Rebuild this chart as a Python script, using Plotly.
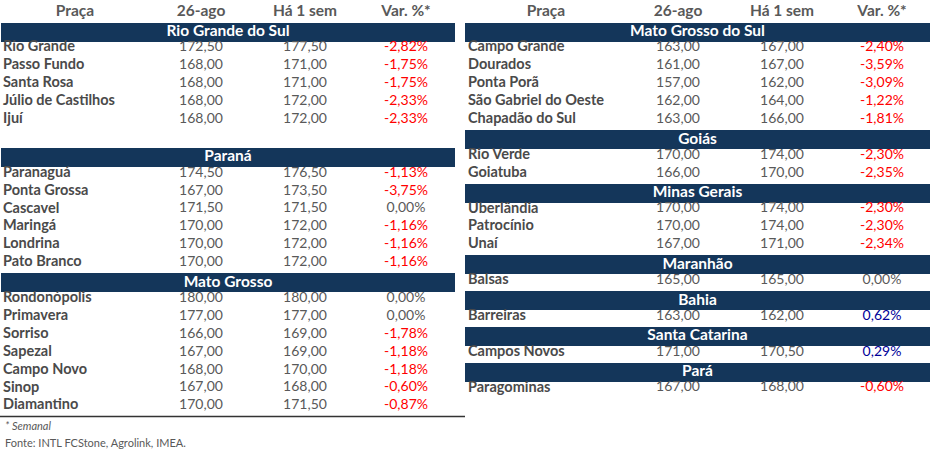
import plotly.graph_objects as go

# Tabela esquerda
left_regiao = ["Rio Grande do Sul"] * 5 + ["Paraná"] * 6 + ["Mato Grosso"] * 7
left_praca = ["Rio Grande", "Passo Fundo", "Santa Rosa", "Júlio de Castilhos", "Ijuí",
              "Paranaguá", "Ponta Grossa", "Cascavel", "Maringá", "Londrina", "Pato Branco",
              "Rondonópolis", "Primavera", "Sorriso", "Sapezal", "Campo Novo", "Sinop", "Diamantino"]
left_26ago = [172.50, 168.00, 168.00, 168.00, 168.00,
              174.50, 167.00, 171.50, 170.00, 170.00, 170.00,
              180.00, 177.00, 166.00, 167.00, 168.00, 167.00, 170.00]
left_1sem = [177.50, 171.00, 171.00, 172.00, 172.00,
             176.50, 173.50, 171.50, 172.00, 172.00, 172.00,
             180.00, 177.00, 169.00, 169.00, 170.00, 168.00, 171.50]
left_var = [-2.82, -1.75, -1.75, -2.33, -2.33,
            -1.13, -3.75, 0.00, -1.16, -1.16, -1.16,
            0.00, 0.00, -1.78, -1.18, -1.18, -0.60, -0.87]

# Tabela direita
right_regiao = (["Mato Grosso do Sul"] * 5 + ["Goiás"] * 2 + ["Minas Gerais"] * 3
                + ["Maranhão", "Bahia", "Santa Catarina", "Pará"])
right_praca = ["Campo Grande", "Dourados", "Ponta Porã", "São Gabriel do Oeste", "Chapadão do Sul",
               "Rio Verde", "Goiatuba", "Uberlândia", "Patrocínio", "Unaí",
               "Balsas", "Barreiras", "Campos Novos", "Paragominas"]
right_26ago = [163.00, 161.00, 157.00, 162.00, 163.00,
               170.00, 166.00, 170.00, 170.00, 167.00,
               165.00, 163.00, 171.00, 167.00]
right_1sem = [167.00, 167.00, 162.00, 164.00, 166.00,
              174.00, 170.00, 174.00, 174.00, 171.00,
              165.00, 162.00, 170.50, 168.00]
right_var = [-2.40, -3.59, -3.09, -1.22, -1.81,
             -2.30, -2.35, -2.30, -2.30, -2.34,
             0.00, 0.62, 0.29, -0.60]

headers = ["Praça", "26-ago", "Há 1 sem", "Var. %*"]
# linha em branco depois de uma região (só na tabela da esquerda)
blank_after = {"Rio Grande do Sul": 1}

NAVY = "#14365a"
GREY = "#595959"
NAME_GREY = "#4a4a4a"
FONT = "Lato"
PITCH = 17.9   # px por linha
TOP = 12       # centro da linha de cabeçalho, px
HEIGHT = 454


def fmt(v):
    return f"{v:.2f}".replace(".", ",")


def var_color(v):
    if v < 0:
        return "#ff0000"
    if v > 0:
        return "#000099"
    return GREY


def layout_rows(regiao):
    # devolve (linhas das barras de região, linhas dos dados)
    bar_rows, data_rows = [], []
    row = 1
    prev = None
    for r in regiao:
        if r != prev:
            if prev is not None:
                row += blank_after.get(prev, 0)
            bar_rows.append((row, r))
            row += 1
            prev = r
        data_rows.append(row)
        row += 1
    return bar_rows, data_rows


fig = go.Figure()


def add_table(xa, regiao, praca, v1, v2, var, cols, bar_start, bar_len):
    bar_rows, data_rows = layout_rows(regiao)
    # barras das regiões
    fig.add_trace(go.Bar(
        y=[r for r, _ in bar_rows], x=[bar_len] * len(bar_rows), base=bar_start,
        orientation="h", width=1.06, offset=-0.4,
        marker=dict(color=NAVY, line=dict(width=0)),
        xaxis=xa, yaxis="y", hoverinfo="skip", showlegend=False))
    fig.add_trace(go.Scatter(
        x=[bar_start + bar_len / 2] * len(bar_rows), y=[r + 0.13 for r, _ in bar_rows],
        text=[n for _, n in bar_rows], mode="text", textposition="middle center",
        textfont=dict(family=FONT, size=15.5, color="white", weight="bold"),
        xaxis=xa, yaxis="y", hoverinfo="skip", showlegend=False))
    # cabeçalho
    fig.add_trace(go.Scatter(
        x=[cols["hpraca"], cols["c1"], cols["c2"], cols["c3"]], y=[0] * 4,
        text=headers, mode="text", textposition="middle center",
        textfont=dict(family=FONT, size=15.5, color=GREY, weight="bold"),
        xaxis=xa, yaxis="y", hoverinfo="skip", showlegend=False))
    # nomes
    fig.add_trace(go.Scatter(
        x=[cols["name"]] * len(praca), y=data_rows, text=praca,
        mode="text", textposition="middle right",
        textfont=dict(family=FONT, size=14.5, color=NAME_GREY, weight="bold"),
        xaxis=xa, yaxis="y", hoverinfo="skip", showlegend=False))
    # valores
    for key, vals in (("c1", v1), ("c2", v2)):
        fig.add_trace(go.Scatter(
            x=[cols[key]] * len(vals), y=data_rows, text=[fmt(v) for v in vals],
            mode="text", textposition="middle center",
            textfont=dict(family=FONT, size=14, color=GREY),
            xaxis=xa, yaxis="y", hoverinfo="skip", showlegend=False))
    fig.add_trace(go.Scatter(
        x=[cols["c3"]] * len(var), y=data_rows, text=[fmt(v) + "%" for v in var],
        mode="text", textposition="middle center",
        textfont=dict(family=FONT, size=14, color=[var_color(v) for v in var]),
        xaxis=xa, yaxis="y", hoverinfo="skip", showlegend=False))
    return data_rows[-1]


last_left = add_table("x", left_regiao, left_praca, left_26ago, left_1sem, left_var,
                      dict(name=3, hpraca=75, c1=201, c2=305, c3=406), 1, 454)
add_table("x2", right_regiao, right_praca, right_26ago, right_1sem, right_var,
          dict(name=3, hpraca=81, c1=213, c2=317, c3=417), 0, 465)

y_top = -TOP / PITCH
y_bot = (HEIGHT - TOP) / PITCH

fig.update_layout(
    width=930, height=HEIGHT,
    margin=dict(l=0, r=0, t=0, b=0),
    paper_bgcolor="white", plot_bgcolor="white",
    bargap=0,
    xaxis=dict(domain=[0, 0.5], range=[0, 465], visible=False, fixedrange=True),
    xaxis2=dict(domain=[0.5, 1], range=[0, 465], visible=False, anchor="y", fixedrange=True),
    yaxis=dict(range=[y_bot, y_top], visible=False, fixedrange=True),
    shapes=[dict(type="line", xref="paper", x0=0, x1=0.5, yref="y",
                 y0=last_left + 0.6, y1=last_left + 0.6,
                 line=dict(color="#333333", width=1.5))],
    annotations=[
        dict(text="<i>* Semanal</i>", xref="paper", yref="paper", x=0.003, y=1 - 425 / HEIGHT,
             xanchor="left", yanchor="middle", showarrow=False,
             font=dict(family=FONT, size=11, color=GREY)),
        dict(text="Fonte: INTL FCStone, Agrolink, IMEA.", xref="paper", yref="paper",
             x=0.003, y=1 - 442 / HEIGHT, xanchor="left", yanchor="middle", showarrow=False,
             font=dict(family=FONT, size=11, color=GREY)),
    ],
)

# sem a margem padrão do <body>, para a figura ocupar a janela toda
fig.write_html("out.html", config={"displayModeBar": False},
               post_script="document.body.style.margin='0';")
